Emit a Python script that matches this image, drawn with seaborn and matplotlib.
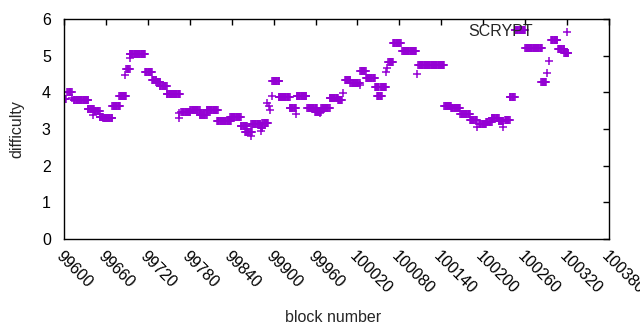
import numpy as np
import pandas as pd
import matplotlib
matplotlib.use('Agg')
import matplotlib.pyplot as plt
import seaborn as sns

# runs of constant difficulty: first block, last block, value
run_start = [99600, 99605, 99611, 99614, 99634, 99642, 99643, 99651, 99656, 99669,
             99679, 99688, 99689, 99695, 99694, 99716, 99726, 99732, 99737, 99747,
             99765, 99765, 99768, 99781, 99794, 99804, 99819, 99820, 99838, 99853,
             99859, 99867, 99868, 99882, 99882, 99884, 99891, 99893, 99895, 99898,
             99898, 99907, 99923, 99932, 99933, 99948, 99959, 99966, 99968, 99980,
             99992, 99999, 100002, 100010, 100023, 100024, 100032, 100045, 100048, 100053,
             100061, 100062, 100064, 100071, 100084, 100105, 100107, 100144, 100154, 100167,
             100181, 100191, 100194, 100204, 100212, 100222, 100229, 100231, 100238, 100245,
             100260, 100283, 100291, 100294, 100297, 100307, 100316]
run_end = [99603, 99611, 99611, 99635, 99643, 99642, 99651, 99656, 99669, 99680,
           99689, 99688, 99694, 99695, 99716, 99726, 99732, 99738, 99747, 99766,
           99765, 99765, 99781, 99794, 99804, 99820, 99819, 99839, 99853, 99862,
           99869, 99867, 99881, 99882, 99884, 99892, 99891, 99893, 99895, 99898,
           99908, 99923, 99932, 99932, 99947, 99962, 99968, 99966, 99980, 99992,
           99998, 99999, 100010, 100023, 100023, 100032, 100045, 100051, 100055, 100061,
           100061, 100062, 100071, 100082, 100104, 100105, 100144, 100154, 100167, 100181,
           100191, 100191, 100204, 100212, 100222, 100229, 100229, 100238, 100245, 100260,
           100284, 100290, 100291, 100294, 100306, 100316, 100322]
run_diff = [3.81, 4.00, 3.85, 3.78, 3.54, 3.38, 3.50, 3.33, 3.31, 3.62,
            3.90, 4.46, 4.65, 4.93, 5.04, 4.55, 4.33, 4.28, 4.16, 3.95,
            3.43, 3.29, 3.46, 3.53, 3.38, 3.51, 3.22, 3.22, 3.32, 3.07,
            2.93, 2.81, 3.13, 2.95, 3.04, 3.17, 3.72, 3.63, 3.52, 3.90,
            4.30, 3.86, 3.56, 3.41, 3.89, 3.56, 3.47, 3.43, 3.56, 3.84,
            3.79, 3.97, 4.35, 4.25, 4.20, 4.57, 4.38, 4.14, 3.89, 4.14,
            4.56, 4.67, 4.82, 5.34, 5.12, 4.49, 4.74, 3.62, 3.56, 3.40,
            3.24, 3.06, 3.14, 3.18, 3.29, 3.22, 3.05, 3.25, 3.86, 5.70,
            5.20, 4.27, 4.52, 4.86, 5.44, 5.17, 5.08]

x_ticks = list(range(99600, 100381, 60))
y_ticks = [0, 1, 2, 3, 4, 5, 6]

rows = []
for a, b, v in zip(run_start, run_end, run_diff):
    for blk in range(a, b + 1):
        rows.append((blk, v))
df = pd.DataFrame(rows, columns=['block', 'difficulty'])

sns.set_style('white')
plt.rcParams['font.family'] = ['Liberation Sans', 'DejaVu Sans']

fig = plt.figure(figsize=(6.4, 3.3), dpi=100)
ax = fig.add_axes([64 / 640, 91 / 330, 545 / 640, 220 / 330])

sns.scatterplot(x='block', y='difficulty', data=df, ax=ax, marker='+', s=30,
                color='#9400d3', linewidth=1.1, label='SCRYPT')

ax.set_xlim(99600, 100380)
ax.set_ylim(0, 6)
ax.set_xticks(x_ticks)
ax.set_yticks(y_ticks)
ax.set_xticklabels([str(t) for t in x_ticks], rotation=-45, ha='left', va='top',
                   rotation_mode='anchor', fontsize=11.5)
ax.set_yticklabels([str(t) for t in y_ticks], fontsize=11.5)
ax.tick_params(direction='in', length=4, width=1, top=True, right=True, colors='black')
ax.tick_params(axis='y', pad=9.5)
ax.tick_params(axis='x', pad=7)
for sp in ax.spines.values():
    sp.set_color('black')
    sp.set_linewidth(1)

ax.set_xlabel('block number', fontsize=11.5)
ax.set_ylabel('difficulty', fontsize=11.5)
ax.xaxis.set_label_coords(0.494, -0.322)
ax.yaxis.set_label_coords(-0.073, 0.5)

ax.legend(loc='center right', bbox_to_anchor=(0.952, 0.941), markerfirst=False,
          frameon=False, fontsize=11.5, borderpad=0, borderaxespad=0,
          handletextpad=1.1, handlelength=2)

fig.savefig('out.png', dpi=100)
